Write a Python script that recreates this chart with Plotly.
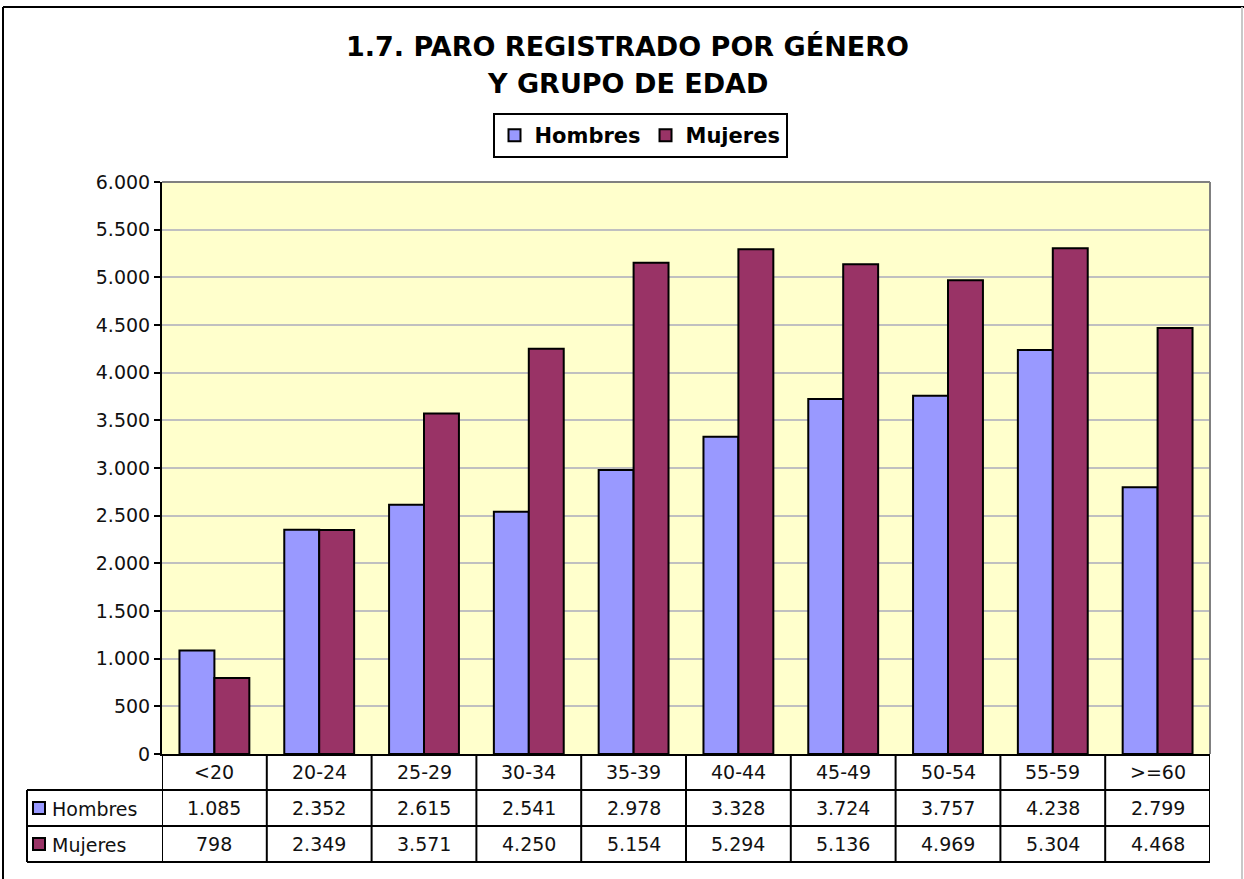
import plotly.graph_objects as go

categories = ["<20", "20-24", "25-29", "30-34", "35-39", "40-44", "45-49", "50-54", "55-59", ">=60"]
hombres = [1085, 2352, 2615, 2541, 2978, 3328, 3724, 3757, 4238, 2799]
mujeres = [798, 2349, 3571, 4250, 5154, 5294, 5136, 4969, 5304, 4468]
series_names = ["Hombres", "Mujeres"]
series_colors = ["#9999FF", "#993366"]
title_lines = ["1.7. PARO REGISTRADO POR GÉNERO", "Y GRUPO DE EDAD"]
y_ticks = list(range(0, 6001, 500))

W, H = 1244, 879
FONT = "DejaVu Sans"


def px(x):
    return x / W


def py(y):
    return 1 - y / H


def fmt(v):
    return f"{v:,}".replace(",", ".")


# plot area pixel bounds
PL, PR, PT, PB = 162, 1210, 182, 754
ROW_Y = [754, 790, 826, 862]
TABLE_LEFT = 27

fig = go.Figure()
xs = list(range(len(categories)))
for name, vals, col in zip(series_names, [hombres, mujeres], series_colors):
    fig.add_trace(go.Bar(
        x=xs, y=vals, name=name,
        marker=dict(color=col, line=dict(color="black", width=2)),
    ))

shapes = []
annotations = []

# outer frame
shapes.append(dict(type="line", xref="paper", yref="paper", x0=px(3), x1=px(3), y0=py(7), y1=py(879),
                   line=dict(color="black", width=2)))
shapes.append(dict(type="line", xref="paper", yref="paper", x0=px(3), x1=px(1244), y0=py(7), y1=py(7),
                   line=dict(color="black", width=2)))
shapes.append(dict(type="line", xref="paper", yref="paper", x0=px(1242), x1=px(1242), y0=py(7), y1=py(879),
                   line=dict(color="#C8C8C8", width=2)))

# plot area top/right gray border
shapes.append(dict(type="line", xref="paper", yref="paper", x0=px(PL), x1=px(PR), y0=py(PT), y1=py(PT),
                   line=dict(color="#808080", width=2)))
shapes.append(dict(type="line", xref="paper", yref="paper", x0=px(PR), x1=px(PR), y0=py(PT), y1=py(PB),
                   line=dict(color="#808080", width=2)))

# data table grid
n = len(categories)
for i in range(n + 1):
    shapes.append(dict(type="line", xref="x", yref="paper", x0=i - 0.5, x1=i - 0.5,
                       y0=py(ROW_Y[0]), y1=py(ROW_Y[3]), line=dict(color="black", width=2)))
shapes.append(dict(type="line", xref="paper", yref="paper", x0=px(TABLE_LEFT), x1=px(TABLE_LEFT),
                   y0=py(ROW_Y[1]), y1=py(ROW_Y[3]), line=dict(color="black", width=2)))
for yy in ROW_Y[1:]:
    shapes.append(dict(type="line", xref="paper", yref="paper", x0=px(TABLE_LEFT), x1=px(PR),
                       y0=py(yy), y1=py(yy), line=dict(color="black", width=2)))

TXT = dict(family=FONT, size=19, color="#111")

# category row
for i, c in enumerate(categories):
    annotations.append(dict(x=i, y=py((ROW_Y[0] + ROW_Y[1]) / 2), xref="x", yref="paper", text=c,
                            showarrow=False, font=TXT, xanchor="center", yanchor="middle"))
# series rows
for r, (name, vals, col) in enumerate(zip(series_names, [hombres, mujeres], series_colors)):
    yc = (ROW_Y[r + 1] + ROW_Y[r + 2]) / 2
    for i, v in enumerate(vals):
        annotations.append(dict(x=i, y=py(yc), xref="x", yref="paper", text=fmt(v),
                                showarrow=False, font=TXT, xanchor="center", yanchor="middle"))
    shapes.append(dict(type="rect", xref="paper", yref="paper", x0=px(33), x1=px(45),
                       y0=py(yc - 6), y1=py(yc + 6), fillcolor=col, line=dict(color="black", width=2)))
    annotations.append(dict(x=px(50), y=py(yc + 1), xref="paper", yref="paper", text=name,
                            showarrow=False, font=TXT, xanchor="left", yanchor="middle"))

# title
for k, (line, yc) in enumerate(zip(title_lines, [47, 84])):
    annotations.append(dict(x=px(628), y=py(yc), xref="paper", yref="paper", text="<b>" + line + "</b>",
                            showarrow=False, font=dict(family=FONT, size=27, color="black"),
                            xanchor="center", yanchor="middle"))

fig.update_layout(
    width=W, height=H,
    autosize=False,
    margin=dict(l=0, r=0, t=0, b=0, pad=0, autoexpand=False),
    paper_bgcolor="white",
    plot_bgcolor="#FFFFCC",
    separators=",.",
    barmode="group",
    bargap=1/3,
    bargroupgap=0,
    showlegend=True,
    legend=dict(orientation="h", x=px(640), xanchor="center", y=py(113), yanchor="top",
                bordercolor="black", borderwidth=2, bgcolor="white",
                font=dict(family=FONT, size=21, color="black", weight="bold")),
    xaxis=dict(domain=[px(PL), px(PR)], range=[-0.5, n - 0.5], showticklabels=False, automargin=False,
               showgrid=False, showline=True, linecolor="black", linewidth=2, ticks="",
               zeroline=False, fixedrange=True),
    yaxis=dict(domain=[py(PB), py(PT)], range=[0, 6000], tickvals=y_ticks, tickformat=",d", automargin=False,
               showgrid=True, gridcolor="#C0C0C0", gridwidth=2, showline=True, linecolor="black",
               linewidth=2, ticks="outside", ticklen=6, tickwidth=2, tickcolor="black",
               tickfont=TXT, zeroline=False, fixedrange=True),
    shapes=shapes,
    annotations=annotations,
    font=dict(family=FONT),
)

fig.write_html("out.html", config={"displayModeBar": False},
               post_script="document.body.style.margin='0';document.body.style.overflow='hidden';")
